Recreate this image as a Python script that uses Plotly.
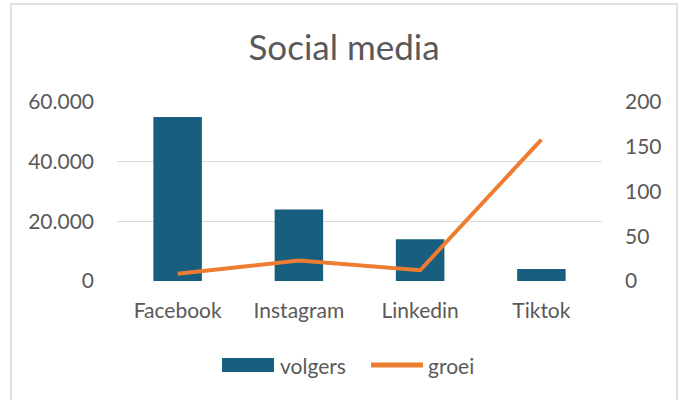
import plotly.graph_objects as go

categories = ["Facebook", "Instagram", "Linkedin", "Tiktok"]
volgers = [55000, 24000, 14000, 4000]
groei = [8, 23, 12, 158]
left_ticks = [0, 20000, 40000, 60000]
left_ticktext = ["0", "20.000", "40.000", "60.000"]
right_ticks = [0, 50, 100, 150, 200]
series_names = ["volgers", "groei"]

W, H = 681, 400
L, R, T, B = 117, 602, 102, 281  # plot area pixel bounds

def px_x(x):
    return (x - L) / (R - L)

def px_y(y):
    return (B - y) / (B - T)

txt = "#595959"
font = "Lato"
blue = "#175E7F"
orange = "#ED7D31"
fs = 21

fig = go.Figure()
fig.add_trace(go.Bar(x=categories, y=volgers, name=series_names[0],
                     marker=dict(color=blue, line=dict(width=0)),
                     width=0.4, yaxis="y", showlegend=False))
fig.add_trace(go.Scatter(x=categories, y=groei, name=series_names[1], mode="lines",
                         line=dict(color=orange, width=4), yaxis="y2",
                         showlegend=False))

shapes = [
    dict(type="rect", xref="paper", yref="paper",
         x0=px_x(11), x1=px_x(677), y0=px_y(404), y1=px_y(4),
         line=dict(color="#D9D9D9", width=1.5), layer="below"),
    # legend swatches
    dict(type="rect", xref="paper", yref="paper",
         x0=px_x(222), x1=px_x(274), y0=px_y(372), y1=px_y(358),
         fillcolor=blue, line=dict(width=0)),
    dict(type="line", xref="paper", yref="paper",
         x0=px_x(371), x1=px_x(423), y0=px_y(365), y1=px_y(365),
         line=dict(color=orange, width=5)),
]
annotations = [
    dict(text=series_names[0], xref="paper", yref="paper", x=px_x(278), y=px_y(365),
         xanchor="left", yanchor="middle", showarrow=False,
         font=dict(size=fs, color=txt, family=font)),
    dict(text=series_names[1], xref="paper", yref="paper", x=px_x(426), y=px_y(365),
         xanchor="left", yanchor="middle", showarrow=False,
         font=dict(size=fs, color=txt, family=font)),
]

fig.update_layout(
    width=W, height=H,
    margin=dict(l=L, r=W - R, t=T, b=H - B, pad=0, autoexpand=False),
    paper_bgcolor="white", plot_bgcolor="white",
    font=dict(family=font, color=txt, size=fs),
    showlegend=False,
    title=dict(text="Social media", x=(344 / W), xanchor="center",
               y=1 - 48 / H, yanchor="middle",
               font=dict(size=35, color=txt, family=font)),
    xaxis=dict(showgrid=False, showline=False, ticks="", zeroline=False,
               automargin=False,
               tickfont=dict(size=fs, color=txt), ticklabelstandoff=15),
    yaxis=dict(range=[0, 60000], tickvals=left_ticks, ticktext=left_ticktext,
               showgrid=True, gridcolor="#D9D9D9", gridwidth=1.3,
               zeroline=False, showline=False, ticks="", automargin=False,
               tickfont=dict(size=fs, color=txt), ticklabelstandoff=22),
    yaxis2=dict(range=[0, 200], tickvals=right_ticks, overlaying="y", side="right",
                showgrid=False, zeroline=False, showline=False, ticks="",
                automargin=False,
                tickfont=dict(size=fs, color=txt), ticklabelstandoff=22),
    bargap=0.6,
    shapes=shapes,
    annotations=annotations,
)

fig.write_html("out.html", config={"displayModeBar": False},
               post_script="document.body.style.margin='0';")
